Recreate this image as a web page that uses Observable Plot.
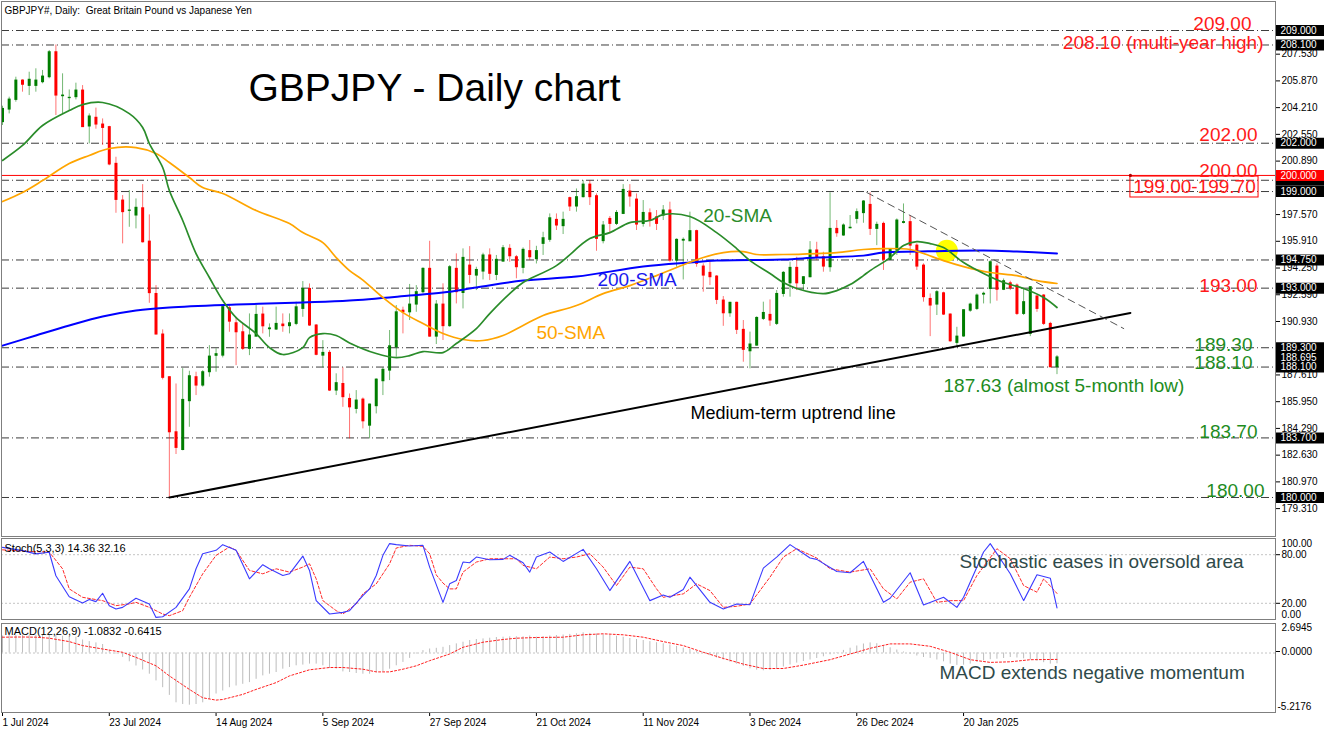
<!DOCTYPE html>
<html>
<head>
<meta charset="utf-8">
<script src="https://cdn.jsdelivr.net/npm/d3@7"></script>
<script src="https://cdn.jsdelivr.net/npm/@observablehq/plot@0.6"></script>
<style>
  body { margin: 0; background: #fff; }
  #chart { position: relative; width: 1332px; height: 732px; overflow: hidden; background: #fff; }
  #chart svg { position: absolute; left: 0; }
</style>
</head>
<body>
<div id="chart"></div>
<script>
// ---------- DATA ----------
// Daily candles, bar index 0 = 1 Jul 2024
const opens = [203.31,204.09,204.69,205.89,205.56,205.56,205.79,206.10,207.65,204.92,
204.80,204.86,205.27,203.04,203.58,203.16,203.00,200.72,198.44,197.80,
197.51,197.96,195.89,192.64,190.12,187.47,184.05,182.95,185.98,187.47,
186.95,187.78,188.80,188.81,191.75,190.82,190.26,189.23,189.99,191.36,
190.45,190.43,190.74,190.64,190.78,191.71,192.95,190.68,188.81,188.98,
186.64,187.05,186.12,185.50,186.08,184.46,185.67,187.22,187.88,189.33,
191.60,191.50,191.98,192.75,194.20,189.99,191.98,190.64,194.20,192.70,
194.40,193.78,194.03,195.03,193.82,194.65,195.44,194.92,194.26,195.30,
194.80,195.75,196.00,197.24,196.85,198.59,198.07,198.65,199.43,198.71,
195.92,197.30,196.99,197.61,199.00,198.50,196.99,197.65,197.40,197.51,
197.82,194.71,195.95,195.91,196.54,194.34,193.95,193.72,192.23,191.44,
192.09,190.41,189.08,189.43,191.09,191.34,190.78,192.64,193.30,194.26,
193.26,193.68,195.34,194.92,194.30,196.68,196.27,196.72,197.30,197.66,
198.17,196.68,196.99,194.76,195.33,197.05,197.10,195.64,194.40,192.33,
191.98,192.68,191.36,189.60,190.00,191.60,191.71,192.60,192.95,194.34,
192.90,193.30,193.16,191.40,190.16,192.48,192.54,190.78,188.10];
const highs = [204.30,204.86,206.10,205.94,206.41,206.62,206.52,207.76,208.10,206.31,
205.31,205.73,205.58,203.82,204.18,203.51,203.05,201.13,198.75,199.06,
198.54,199.43,197.55,193.16,190.41,187.50,187.05,188.00,187.84,187.78,
187.88,189.43,189.23,191.92,191.92,191.19,190.78,191.40,191.92,191.82,
190.78,191.82,191.40,191.40,192.13,193.41,193.26,190.74,189.74,189.12,
187.68,188.05,186.43,186.64,186.18,185.80,187.37,188.05,190.37,191.92,
191.82,193.23,193.16,194.26,195.91,192.23,193.27,194.40,195.13,195.44,
195.58,194.30,195.17,195.44,195.03,195.65,195.70,195.03,195.50,195.96,
195.60,196.47,197.61,197.61,197.72,198.65,199.16,199.68,199.68,198.85,
197.14,197.45,197.82,199.43,199.43,198.85,198.44,197.92,197.82,198.13,
198.34,196.06,196.12,197.72,196.60,194.51,194.61,193.78,192.48,192.12,
192.13,190.99,190.27,191.22,192.13,192.27,192.85,194.03,194.61,194.92,
193.72,195.89,195.85,195.23,198.92,197.20,196.99,197.51,197.92,198.44,
198.92,197.10,197.10,195.44,197.30,198.23,197.51,195.75,194.51,192.64,
192.85,192.75,191.40,190.57,191.65,192.07,192.64,192.75,194.71,194.51,
193.57,193.43,193.26,192.95,193.10,192.54,192.60,190.88,188.81];
const lows = [203.10,203.82,204.55,205.17,204.96,205.17,205.69,206.00,203.72,203.82,
204.03,204.69,202.98,201.96,202.87,201.86,200.60,197.65,195.75,196.78,
196.68,195.80,192.06,190.10,187.30,180.00,182.67,182.90,184.36,186.33,
186.85,187.47,187.78,188.67,190.26,188.19,189.13,188.81,189.95,190.16,
189.95,190.37,190.26,190.16,190.67,191.19,190.62,188.80,188.05,186.58,
186.33,185.60,183.64,185.19,184.26,183.64,185.19,186.33,187.26,188.71,
190.16,190.99,191.50,192.65,189.95,189.50,189.75,190.57,192.02,191.71,
193.27,192.85,193.51,193.47,193.47,194.61,194.61,193.58,193.89,194.71,
194.50,195.03,195.85,196.58,196.33,197.76,197.72,198.60,198.13,195.29,
195.75,196.37,196.89,197.57,198.03,196.58,196.79,196.79,196.58,197.20,
194.61,194.30,193.51,195.91,194.30,192.75,193.16,191.98,190.63,191.19,
190.12,188.40,187.99,189.40,190.99,190.63,190.68,192.44,192.44,192.85,
192.85,193.64,194.71,193.99,193.99,196.16,196.22,196.68,196.99,197.03,
196.27,195.64,194.10,194.71,195.03,196.99,195.03,194.10,192.13,189.99,
191.30,191.30,189.64,189.37,189.95,191.50,191.61,192.02,192.02,192.19,
192.85,192.85,191.30,191.30,189.99,191.50,190.68,188.05,187.63];
const closes = [204.13,204.71,205.89,205.63,205.94,205.89,206.14,207.65,204.96,204.96,
204.82,205.27,203.00,203.66,203.16,202.95,200.68,198.48,197.72,197.82,
197.99,195.85,192.69,190.12,187.43,184.05,183.08,186.06,187.53,186.95,
187.78,188.75,188.90,191.82,190.92,190.26,189.23,190.06,191.34,190.63,
190.50,190.78,190.64,190.82,191.81,192.95,190.68,188.86,188.98,186.64,
187.10,186.23,185.60,186.02,184.73,185.77,187.32,187.93,189.39,191.50,
191.50,191.98,192.75,194.20,189.99,191.98,190.64,194.30,192.75,194.88,
193.82,194.13,195.03,193.89,194.76,195.48,194.98,194.30,195.38,194.92,
195.30,196.10,197.34,196.89,197.24,198.07,198.65,199.43,198.65,196.06,
196.89,196.99,197.67,199.10,198.69,196.95,197.67,197.20,196.99,197.82,
194.71,196.00,196.00,196.54,194.51,193.78,193.68,192.27,191.44,192.09,
190.41,189.17,189.50,191.15,191.46,190.99,192.64,193.95,194.26,193.30,
193.68,195.34,194.92,194.34,196.68,196.41,196.89,196.75,197.72,198.38,
196.68,196.93,194.76,195.38,197.20,197.10,195.64,194.34,192.44,191.92,
192.75,191.36,189.70,189.99,191.63,191.98,192.54,192.65,194.61,192.90,
193.43,193.00,191.40,192.13,193.06,191.71,190.78,188.09,188.70];

const sma20At = [0,3,6,10,12,15,19,21,22,24,25,27,29,31,33,35,38,40,42,45,46,48,50,52,56,59,61,63,66,68,71,73,76,78,83,88,91,94,97,99,103,107,110,112,115,117,119,123,125,127,129,130,133,135,137,139,141,144,147,150,153,156,158];
const sma20 = [200.93,201.86,203.10,204.03,204.40,204.53,203.84,202.98,201.98,200.49,199.06,197.20,195.15,193.66,192.23,191.17,190.18,189.31,188.88,189.31,189.93,190.18,190.06,189.60,188.94,188.69,188.81,189.06,189.00,189.56,190.49,191.42,192.66,193.35,194.40,196.08,196.45,197.07,197.20,197.57,197.45,196.45,195.46,194.71,193.91,193.35,192.98,192.66,192.85,193.22,193.78,194.09,194.90,195.65,195.89,195.77,195.52,194.59,193.91,193.35,192.98,192.42,191.80];
const sma50At = [0,3,6,10,13,16,20,23,25,28,30,33,38,43,45,48,50,52,54,57,60,63,66,69,72,75,78,81,86,90,94,98,101,105,108,111,113,117,122,125,129,132,136,138,141,144,148,152,155,158];
const sma50 = [198.38,198.94,199.68,200.74,201.24,201.67,201.73,201.36,200.80,199.87,199.25,198.88,197.82,197.01,196.45,195.83,194.90,194.09,193.50,192.42,191.48,190.80,190.18,189.81,189.75,190.06,190.68,191.30,191.92,192.66,193.16,193.78,194.28,194.90,195.21,195.27,195.09,195.09,195.15,195.21,195.40,195.46,195.40,195.15,194.71,194.34,193.97,193.78,193.47,193.29];
const sma200At = [0,5,10,15,20,25,35,45,52,61,66,71,78,86,96,103,107,117,122,129,132,137,147,152,158];
const sma200 = [189.43,190.06,190.68,191.24,191.61,191.80,191.98,192.11,192.23,192.54,192.73,193.04,193.47,193.72,194.34,194.59,194.71,194.78,194.90,195.02,195.21,195.27,195.34,195.27,195.15];

// Stochastic (5,3,3)
const stochKAt = [0,3,5,7,8,10,12,13,14,15,16,17,18,20,22,23,24,26,28,29,30,32,33,35,37,39,40,42,43,45,46,47,49,51,52,54,55,56,57,58,59,61,63,64,66,67,68,69,70,71,73,75,76,78,79,80,82,84,87,89,91,94,97,99,100,102,103,106,108,110,112,114,116,118,121,122,125,127,129,132,133,136,138,141,143,144,147,148,151,153,155,157,158];
const stochK = [89,85,81,83,54,28,20.4,24.6,22.1,32.4,17.1,13.0,15.0,26.2,19.2,2.6,3.4,15.0,37.8,62.6,81.2,85.4,92.4,85.4,50.2,67.6,62.6,54.3,56.4,78.3,60.6,23.3,6.8,8.8,10.9,29.5,37.8,54.3,79.2,93.7,92.4,90.8,91.6,64.7,21.2,44.0,48.1,70.9,70.1,77.1,73.8,74.2,79.2,70.1,58.5,77.1,83.3,71.7,86.6,62.6,35.7,71.7,23.3,30.3,27.4,37.0,52.3,21.2,13.0,19.2,18.3,63.4,77.1,92.4,75.9,74.2,59.3,57.7,71.7,21.2,26.2,57.7,17.9,27.4,15.0,27.4,83.3,93.7,56.4,23.3,55.2,51.0,14.36];
const stochDAt = [0,4,7,9,10,12,14,15,17,19,20,22,24,25,27,28,30,32,34,35,37,39,41,43,45,46,47,48,50,51,53,54,56,58,59,61,63,64,65,66,67,68,69,71,73,75,77,78,80,82,84,86,88,90,92,94,96,98,99,102,104,106,108,110,112,115,117,119,122,124,127,130,132,134,136,138,140,142,144,146,149,151,153,155,156,158];
const stochD = [86,84,83.3,62.6,37.8,27.4,24.6,23.3,17.1,19.2,21.2,15.0,6.8,4.7,10.9,27.4,56.4,79.2,89.5,85.4,60.6,56.4,62.6,58.5,64.7,68.8,50.2,23.3,10.9,6.8,19.2,31.6,44.0,68.8,88.3,91.6,90.3,81.2,55.0,45.0,37.8,37.8,58.5,70.9,75.0,75.0,75.0,66.8,62.6,77.1,75.0,77.1,81.2,64.7,41.9,64.7,62.6,37.8,27.4,31.6,44.0,35.7,15.0,16.3,19.2,52.3,77.1,87.4,75.9,62.6,58.5,62.6,37.8,25.4,46.1,50.2,21.2,23.3,23.3,54.3,87.4,75.0,41.9,33.7,50.2,32.16];

// MACD (12,26,9): main value per bar (histogram) and signal line
const macd = [1.70,1.74,1.76,1.77,1.78,1.78,1.77,1.78,1.80,1.68,
1.62,1.58,1.30,1.14,1.01,0.85,0.24,-0.10,-0.44,-0.88,
-1.30,-1.70,-2.12,-2.79,-3.47,-4.24,-4.98,-5.15,-5.22,-5.15,
-4.98,-4.65,-4.10,-3.80,-3.47,-3.30,-3.13,-2.96,-2.63,-2.29,
-2.12,-1.95,-1.62,-1.45,-1.28,-1.21,-1.11,-1.11,-1.28,-1.55,
-1.62,-1.89,-1.95,-2.05,-2.12,-2.12,-1.95,-1.89,-1.62,-1.28,
-0.94,-0.54,-0.10,0.24,0.40,0.47,0.57,0.74,0.91,1.08,
1.25,1.35,1.41,1.48,1.55,1.58,1.62,1.62,1.62,1.70,
1.58,1.64,1.70,1.75,1.80,1.86,1.92,2.02,1.96,1.90,
1.82,1.77,1.68,1.58,1.45,1.35,1.25,1.14,1.03,0.92,
0.80,0.66,0.49,0.35,0.17,-0.05,-0.27,-0.50,-0.70,-0.92,
-1.12,-1.35,-1.58,-1.72,-1.78,-1.74,-1.62,-1.40,-1.20,-1.01,
-0.85,-0.70,-0.55,-0.38,-0.18,0.05,0.26,0.48,0.70,0.90,
1.01,0.93,0.68,0.52,0.30,0.10,-0.12,-0.30,-0.45,-0.54,
-0.70,-0.88,-1.11,-1.24,-1.22,-1.11,-0.95,-0.78,-0.67,-0.62,
-0.55,-0.45,-0.50,-0.58,-0.69,-0.82,-0.97,-1.11,-1.0832];
const signalAt = [0,3,5,7,10,12,15,18,20,23,25,28,30,32,33,36,38,41,43,46,49,51,54,56,58,60,62,64,67,69,72,75,77,80,84,87,90,93,96,99,102,105,108,111,114,117,120,124,127,130,133,136,139,142,145,148,151,154,158];
const signal = [1.58,1.60,1.58,1.48,1.14,0.74,0.40,0.07,-0.44,-1.28,-2.29,-3.64,-4.48,-4.71,-4.65,-4.14,-3.64,-2.96,-2.29,-1.68,-1.45,-1.45,-1.62,-1.89,-1.89,-1.62,-1.28,-0.77,-0.10,0.57,1.08,1.35,1.48,1.55,1.58,1.82,1.92,1.82,1.58,1.14,0.74,0.07,-0.54,-1.11,-1.55,-1.55,-1.21,-0.67,-0.10,0.47,0.91,0.91,0.67,0.07,-0.67,-0.94,-0.88,-0.67,-0.6415];

// Horizontal levels, axis ticks, labels
const levelLines = [209, 208.1, 202, 199.7, 199, 194.75, 193, 189.3, 188.1, 183.7, 180];
const redLevel = 200;
const priceTicks = [207.53, 205.87, 204.21, 202.55, 200.89, 197.57, 195.91, 194.25, 192.59, 190.93, 187.61, 185.95, 184.29, 182.63, 180.97, 179.31];
const hiddenBox = [199.7];
const boxedPrices = [188.695, 209, 208.1, 202, 199, 194.75, 193, 189.3, 188.1, 183.7, 180];
const dateIdx = [0, 16, 32, 48, 64, 80, 96, 112, 128, 144];
const dateLabels = ["1 Jul 2024", "23 Jul 2024", "14 Aug 2024", "5 Sep 2024", "27 Sep 2024", "21 Oct 2024", "11 Nov 2024", "3 Dec 2024", "26 Dec 2024", "20 Jan 2025"];

// ---------- RENDER ----------
const FONT = "'Liberation Sans', Arial, Helvetica, sans-serif";
const UP = "#007d00", DOWN = "#ff0000";
const RED_TXT = "#ff1a1a", GREEN_TXT = "#1e8c1e";
const BORDER = "#7f7f7f";
const xScale = {domain: [-0.15, 190.74], range: [1, 1275], axis: null};
const pts = (at, vals) => at.map((x, j) => ({x, v: vals[j]}));
const candles = opens.map((o, i) => ({i, o, h: highs[i], l: lows[i], c: closes[i]}));
const col = d => d.c >= d.o ? UP : DOWN;
const dateLabelOf = new Map(dateIdx.map((d, j) => [d, dateLabels[j]]));
const note = (text, x, y, opts) => Plot.text([text], {x, y, text: d => d, fontFamily: FONT, ...opts});

const main = Plot.plot({
  width: 1332, height: 537,
  marginLeft: 1, marginRight: 57, marginTop: 1, marginBottom: 1,
  x: xScale,
  y: {domain: [177.578, 210.801], range: [536, 1], axis: null},
  style: {fontFamily: FONT, background: "transparent", overflow: "visible"},
  marks: [
    Plot.ruleY(levelLines, {stroke: "#3c3c3c", strokeDasharray: "8,3,1,3"}),
    Plot.ruleY([redLevel], {stroke: "#ff0000"}),
    Plot.dot([0], {x: 141.5, y: 195.32, r: 11, fill: "#ffff00", stroke: "none"}),
    Plot.ruleX(candles, {x: "i", y1: "l", y2: "h", stroke: col, strokeOpacity: 0.55}),
    Plot.ruleX(candles, {x: "i", y1: d => Math.max(d.o, d.c), y2: d => Math.min(d.o, d.c), stroke: col, strokeWidth: 3, insetTop: -0.5, insetBottom: -0.5}),
    Plot.line(pts(sma200At, sma200), {x: "x", y: "v", stroke: "#0000ff", strokeWidth: 2, curve: "catmull-rom"}),
    Plot.line(pts(sma50At, sma50), {x: "x", y: "v", stroke: "#ffa500", strokeWidth: 1.7, curve: "catmull-rom"}),
    Plot.line(pts(sma20At, sma20), {x: "x", y: "v", stroke: "#2a8c2a", strokeWidth: 1.7, curve: "catmull-rom"}),
    Plot.line([{x: 25, v: 180.0}, {x: 169.0, v: 191.46}], {x: "x", y: "v", stroke: "#000", strokeWidth: 2}),
    Plot.line([{x: 129.5, v: 198.94}, {x: 168.0, v: 190.49}], {x: "x", y: "v", stroke: "#555", strokeWidth: 1, strokeDasharray: "7,5"}),
    Plot.rect([0], {x1: 169.0, x2: 188.2, y1: 198.63, y2: 199.93, stroke: "#ff0000", fill: "none"}),
    Plot.dot([0], {x: 169.0, y: 200.0, r: 1.6, fill: "#b00000", stroke: "none"}),
    // annotations
    note("GBPJPY - Daily chart", 36.86, 205.37, {fontSize: 39, fill: "#000", textAnchor: "start", lineAnchor: "middle"}),
    note("209.00", 187.14, 209.06, {fontSize: 19, fill: RED_TXT, textAnchor: "end", lineAnchor: "bottom"}),
    note("208.10 (multi-year high)", 188.94, 207.88, {fontSize: 19, fill: RED_TXT, textAnchor: "end", lineAnchor: "bottom"}),
    note("202.00", 188.04, 202.11, {fontSize: 19, fill: RED_TXT, textAnchor: "end", lineAnchor: "bottom"}),
    note("200.00", 188.04, 199.93, {fontSize: 19, fill: RED_TXT, textAnchor: "end", lineAnchor: "bottom"}),
    note("199.00-199.70", 178.6, 199.30, {fontSize: 19, fill: RED_TXT, textAnchor: "middle", lineAnchor: "middle"}),
    note("193.00", 188.04, 192.79, {fontSize: 19, fill: RED_TXT, textAnchor: "end", lineAnchor: "bottom"}),
    note("189.30", 187.29, 189.12, {fontSize: 19, fill: GREEN_TXT, textAnchor: "end", lineAnchor: "bottom"}),
    note("188.10", 187.29, 188.01, {fontSize: 19, fill: GREEN_TXT, textAnchor: "end", lineAnchor: "bottom"}),
    note("187.63 (almost 5-month low)", 141.0, 186.95, {fontSize: 19, fill: GREEN_TXT, textAnchor: "start", lineAnchor: "middle"}),
    note("183.70", 188.04, 183.72, {fontSize: 19, fill: GREEN_TXT, textAnchor: "end", lineAnchor: "bottom"}),
    note("180.00", 189.09, 180.06, {fontSize: 19, fill: GREEN_TXT, textAnchor: "end", lineAnchor: "bottom"}),
    note("20-SMA", 105.0, 197.48, {fontSize: 19, fill: "#2a8c2a", textAnchor: "start", lineAnchor: "middle"}),
    note("200-SMA", 89.15, 193.50, {fontSize: 19, fill: "#1a1aee", textAnchor: "start", lineAnchor: "middle"}),
    note("50-SMA", 80.0, 190.21, {fontSize: 19, fill: "#ffa500", textAnchor: "start", lineAnchor: "middle"}),
    note("Medium-term uptrend line", 103.1, 185.21, {fontSize: 18, fill: "#000", textAnchor: "start", lineAnchor: "middle"}),
    Plot.text(["GBPJPY#, Daily:  Great Britain Pound vs Japanese Yen"], {frameAnchor: "top-left", dx: 3, dy: 9, text: d => d, fontSize: 10, fill: "#000", textAnchor: "start", lineAnchor: "middle"}),
    // right price axis
    Plot.axisY({anchor: "right", ticks: priceTicks, tickFormat: d => d.toFixed(3), tickSize: 4, tickPadding: 2, fontSize: 10, label: null, color: "#000"}),
    Plot.tickY(hiddenBox, {y: d => d, stroke: "#000", strokeWidth: 11, insetLeft: 1275, insetRight: -49}),
    Plot.tickY(boxedPrices, {y: d => d, stroke: "#000", strokeWidth: 11, insetLeft: 1275, insetRight: -49}),
    Plot.text(boxedPrices, {y: d => d, text: d => d.toFixed(3), frameAnchor: "right", dx: 5, textAnchor: "start", fill: "#fff", fontSize: 10}),
    Plot.tickY([redLevel], {y: d => d, stroke: "#ff0000", strokeWidth: 11, insetLeft: 1275, insetRight: -49}),
    Plot.text([redLevel], {y: d => d, text: d => d.toFixed(3), frameAnchor: "right", dx: 5, textAnchor: "start", fill: "#fff", fontSize: 10}),
    Plot.frame({stroke: BORDER})
  ]
});
main.style.top = "0px";

const stoch = Plot.plot({
  width: 1332, height: 84,
  marginLeft: 1, marginRight: 57, marginTop: 1, marginBottom: 2,
  x: xScale,
  y: {domain: [0, 100], range: [82, 1], axis: null},
  style: {fontFamily: FONT, background: "transparent", overflow: "visible"},
  marks: [
    Plot.ruleY([20, 80], {stroke: "#c4c4c4", strokeDasharray: "2,2"}),
    Plot.line(pts(stochDAt, stochD), {x: "x", y: "v", stroke: "#ff2a2a", strokeWidth: 1, strokeDasharray: "3,2"}),
    Plot.line(pts(stochKAt, stochK), {x: "x", y: "v", stroke: "#3b3bff", strokeWidth: 1.1}),
    Plot.text(["Stoch(5,3,3) 14.36 32.16"], {frameAnchor: "top-left", dx: 3, dy: 9.5, text: d => d, fontSize: 11, fill: "#000", textAnchor: "start", lineAnchor: "middle"}),
    note("Stochastic eases in oversold area", 143.4, 71.0, {fontSize: 19, fill: "#2f4a4a", textAnchor: "start", lineAnchor: "middle"}),
    Plot.axisY({anchor: "right", ticks: [20, 80], tickFormat: d => d.toFixed(2), tickSize: 4, tickPadding: 2, fontSize: 10, label: null, color: "#000"}),
    Plot.text([100], {y: d => d, text: d => d.toFixed(2), frameAnchor: "right", dx: 6, dy: 5, textAnchor: "start", fontSize: 10, fill: "#000"}),
    Plot.text([0], {y: d => d, text: d => d.toFixed(2), frameAnchor: "right", dx: 6, dy: -5, textAnchor: "start", fontSize: 10, fill: "#000"}),
    Plot.frame({stroke: BORDER})
  ]
});
stoch.style.top = "537px";

const macdPlot = Plot.plot({
  width: 1332, height: 111,
  marginLeft: 1, marginRight: 57, marginTop: 2, marginBottom: 20,
  x: xScale,
  y: {domain: [-5.95, 2.95], range: [91, 2], axis: null},
  style: {fontFamily: FONT, background: "transparent", overflow: "visible"},
  marks: [
    Plot.ruleY([0], {stroke: "#c4c4c4", strokeDasharray: "2,2"}),
    Plot.ruleX(macd, {x: (d, i) => i, y1: 0, y2: d => d, stroke: "#bdbdbd", strokeWidth: 1}),
    Plot.line(pts(signalAt, signal), {x: "x", y: "v", stroke: "#ff2020", strokeWidth: 1, strokeDasharray: "2,2"}),
    Plot.text(["MACD(12,26,9) -1.0832 -0.6415"], {frameAnchor: "top-left", dx: 3, dy: 8, text: d => d, fontSize: 11, fill: "#000", textAnchor: "start", lineAnchor: "middle"}),
    note("MACD extends negative momentum", 140.4, -2.0, {fontSize: 19, fill: "#2f4a4a", textAnchor: "start", lineAnchor: "middle"}),
    Plot.axisY({anchor: "right", ticks: [0], tickFormat: d => d.toFixed(4), tickSize: 4, tickPadding: 2, fontSize: 10, label: null, color: "#000", dy: -1.5}),
    Plot.text([2.6945], {y: d => d, text: d => d.toFixed(4), frameAnchor: "right", dx: 6, dy: 1.4, textAnchor: "start", fontSize: 10, fill: "#000"}),
    Plot.text([-5.2176], {y: d => d, text: d => d.toFixed(4), frameAnchor: "right", dx: 2, dy: 1.3, textAnchor: "start", fontSize: 10, fill: "#000"}),
    Plot.axisX({anchor: "bottom", ticks: dateIdx, tickFormat: d => dateLabelOf.get(d), tickSize: 4, tickPadding: 2, textAnchor: "start", fontSize: 10, label: null, color: "#000"}),
    Plot.frame({stroke: BORDER})
  ]
});
macdPlot.style.top = "621px";

const root = document.getElementById("chart");
root.append(main, stoch, macdPlot);
</script>
</body>
</html>
